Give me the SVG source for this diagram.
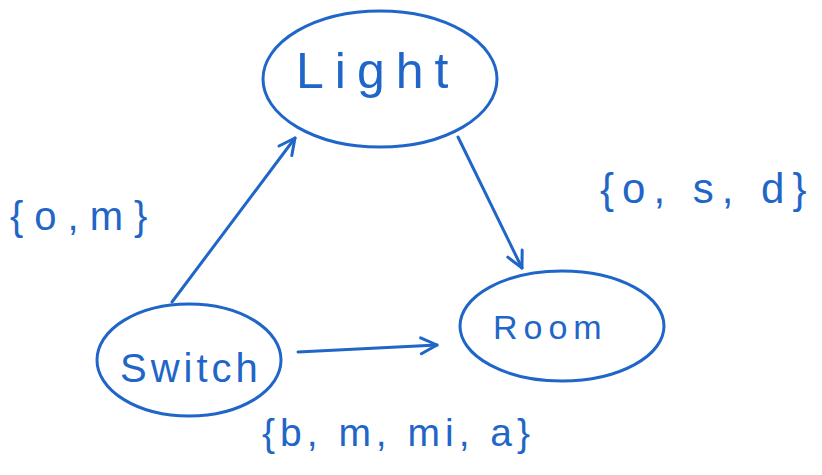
<svg xmlns="http://www.w3.org/2000/svg" width="822" height="475" viewBox="0 0 822 475">
<style>
.shape{fill:none;stroke:#1f66c8;stroke-width:3;stroke-linecap:round;stroke-linejoin:round}
.t{font-family:"Liberation Sans","DejaVu Sans",sans-serif;fill:#1f66c8}
</style>
<defs>
<marker id="ah" viewBox="0 0 20 20" refX="18" refY="10" markerWidth="20" markerHeight="20" markerUnits="userSpaceOnUse" orient="auto">
<path d="M2,2 L18,10 L2,18" fill="none" stroke="#1f66c8" stroke-width="3" stroke-linecap="round" stroke-linejoin="round"/>
</marker>
</defs>
<rect width="822" height="475" fill="#fff"/>
<g id="connectors">
<path class="shape" d="M172,302 L295,138" marker-end="url(#ah)"/>
<path class="shape" d="M458,137 L522,268" marker-end="url(#ah)"/>
<path class="shape" d="M298,352 L437,345" marker-end="url(#ah)"/>
</g>
<g id="light">
<ellipse class="shape" cx="380" cy="79" rx="117" ry="68"/>
<text class="t" x="296" y="88" font-size="50" letter-spacing="11">Light</text>
</g>
<g id="switch">
<ellipse class="shape" cx="189" cy="360" rx="92" ry="56"/>
<text class="t" x="120" y="382" font-size="40" letter-spacing="4">Switch</text>
</g>
<g id="room">
<ellipse class="shape" cx="562" cy="326" rx="102" ry="55"/>
<text class="t" x="493" y="339" font-size="34" letter-spacing="6">Room</text>
</g>
<g id="labels">
<text class="t" x="10" y="230" font-size="40" letter-spacing="11">{o,m}</text>
<text class="t" x="600" y="203" font-size="42" letter-spacing="8">{o, s, d}</text>
<text class="t" x="262" y="446" font-size="39" letter-spacing="5">{b, m, mi, a}</text>
</g>
</svg>
